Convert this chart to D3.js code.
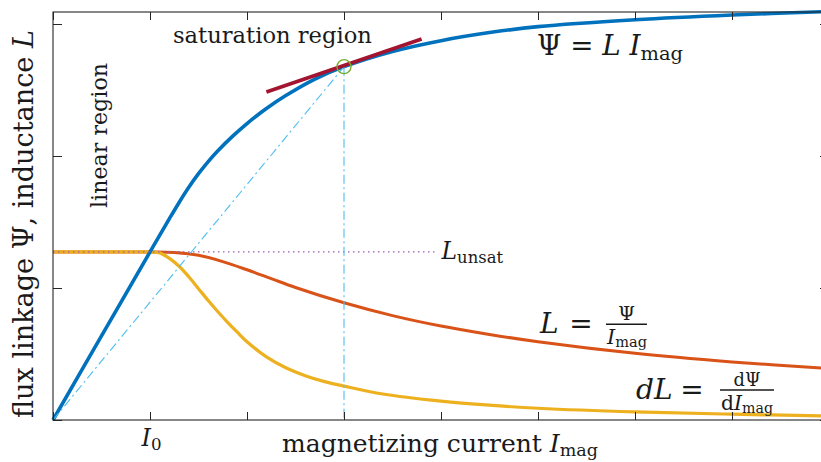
<!DOCTYPE html>
<html><head><meta charset="utf-8">
<script src="https://cdn.jsdelivr.net/npm/d3@7/dist/d3.min.js"></script>
<style>
body{margin:0;background:#fff}
svg{display:block}
text{font-family:'DejaVu Serif','Liberation Serif',serif;fill:#1a1a1a}
</style>
</head><body>
<svg id="chart" width="821" height="462"></svg>
<script>
// ---- data ----
const xTicks = [0,1,2,3,4,5,6,7,8];
const yTicks = [0,1,2,3];
const currentPsi = [0, 0.5, 1, 1.2, 1.3, 1.4, 1.5, 1.6, 1.7, 1.85, 2.0, 2.2, 2.4, 2.7, 3, 3.5, 4, 4.5, 5, 6, 7, 8];
const psi        = [0, 0.637, 1.273, 1.525, 1.648, 1.763, 1.866, 1.958, 2.04, 2.149, 2.246, 2.36, 2.458, 2.583, 2.677, 2.792, 2.874, 2.935, 2.98, 3.032, 3.068, 3.095];
const currentL   = [0, 0.5, 1, 1.25, 1.5, 1.75, 2, 2.25, 2.5, 3, 3.5, 4, 4.5, 5, 6, 7, 8];
const inductance = [1.273, 1.273, 1.273, 1.269, 1.248, 1.2, 1.138, 1.071, 1.004, 0.888, 0.791, 0.712, 0.648, 0.593, 0.505, 0.44, 0.389];
const currentD   = [0, 0.5, 1, 1.1, 1.2, 1.3, 1.4, 1.5, 1.6, 1.7, 1.8, 1.9, 2.0, 2.2, 2.4, 2.6, 2.8, 3.0, 3.4, 4.0, 4.5, 5.0, 6.0, 7.0, 8.0];
const diffInductance = [1.273, 1.273, 1.273, 1.266, 1.225, 1.165, 1.085, 0.995, 0.905, 0.82, 0.74, 0.665, 0.593, 0.478, 0.396, 0.336, 0.291, 0.257, 0.197, 0.143, 0.112, 0.089, 0.061, 0.044, 0.03];
const Lunsat = 1.273;
const LunsatEnd = 3.96;
const opPoint = [3, 2.677];
const tangentX = [2.2, 3.8];
const tangentY = [2.485, 2.886];
const xDomain = [0, 8];
const yDomain = [0, 3.091];

// ---- layout ----
const svg = d3.select('#chart');
const x = d3.scaleLinear().domain(xDomain).range([53, 829]);
const y = d3.scaleLinear().domain(yDomain).range([420, 12]);
const axCol = '#262626';

const line = d3.line().x(d => x(d[0])).y(d => y(d[1])).curve(d3.curveCatmullRom.alpha(0.5));

// curves
svg.append('path').datum(currentL.map((c,i)=>[c, inductance[i]]))
  .attr('d', line).attr('fill','none').attr('stroke','#D95319').attr('stroke-width',3);
svg.append('path').datum(currentD.map((c,i)=>[c, diffInductance[i]]))
  .attr('d', line).attr('fill','none').attr('stroke','#EDB120').attr('stroke-width',3.2);
svg.append('path').datum(currentPsi.map((c,i)=>[c, psi[i]]))
  .attr('d', line).attr('fill','none').attr('stroke','#0072BD').attr('stroke-width',3.6);

// L_unsat dotted
svg.append('line').attr('x1',x(0)).attr('x2',x(LunsatEnd)).attr('y1',y(Lunsat)).attr('y2',y(Lunsat))
  .attr('stroke','#9a5cb0').attr('stroke-width',1.2).attr('stroke-dasharray','1.5,3.5');

// secant and vertical dash-dot
svg.append('line').attr('x1',x(0)).attr('y1',y(0)).attr('x2',x(opPoint[0])).attr('y2',y(opPoint[1]))
  .attr('stroke','#4DBEEE').attr('stroke-width',1.1).attr('stroke-dasharray','9,3.5,2,3.5');
svg.append('line').attr('x1',x(opPoint[0])).attr('y1',y(opPoint[1])).attr('x2',x(opPoint[0])).attr('y2',y(0))
  .attr('stroke','#4DBEEE').attr('stroke-width',1.1).attr('stroke-dasharray','9,3.5,2,3.5');

// tangent
svg.append('line').attr('x1',x(tangentX[0])).attr('y1',y(tangentY[0])).attr('x2',x(tangentX[1])).attr('y2',y(tangentY[1]))
  .attr('stroke','#A2142F').attr('stroke-width',3.8);

// operating point circle
svg.append('circle').attr('cx',x(opPoint[0])).attr('cy',y(opPoint[1])).attr('r',7)
  .attr('fill','none').attr('stroke','#77AC30').attr('stroke-width',1.4);

// axes (ticks inward)
function styleAxis(g){ g.select('.domain').remove(); g.selectAll('line').attr('stroke',axCol); g.selectAll('text').remove(); }
svg.append('g').attr('transform','translate(0,420)').call(d3.axisBottom(x).tickValues(xTicks).tickSize(-8)).call(styleAxis);
svg.append('g').attr('transform','translate(0,12)').call(d3.axisTop(x).tickValues(xTicks).tickSize(-8)).call(styleAxis);
svg.append('g').attr('transform','translate(53,0)').call(d3.axisLeft(y).tickValues(yTicks).tickSize(-9)).call(styleAxis);
svg.append('g').attr('transform','translate(829,0)').call(d3.axisRight(y).tickValues(yTicks).tickSize(-9)).call(styleAxis);
svg.append('rect').attr('x',53).attr('y',12).attr('width',829-53).attr('height',420-12)
  .attr('fill','none').attr('stroke',axCol).attr('stroke-width',1.1);

// ---- text helpers ----
function fit(t, target){
  const w = t.node().getComputedTextLength();
  const fs = parseFloat(t.attr('font-size'));
  t.attr('font-size', (fs*target/w).toFixed(2));
  return t;
}
function sub(t, s){ t.append('tspan').attr('font-size','0.7em').attr('dy','0.24em').text(s); return t; }
function ital(t, s){ t.append('tspan').attr('font-style','italic').text(s); return t; }
function plain(t, s){ t.append('tspan').text(s); return t; }

// x tick label I0
{ const t = svg.append('text').attr('x',141.5).attr('y',446).attr('font-size',20);
  ital(t,'I'); sub(t,'0'); fit(t,20); }

// axis labels
{ const t = svg.append('text').attr('x',282).attr('y',452).attr('font-size',22);
  plain(t,'magnetizing current '); ital(t,'I'); sub(t,'mag'); fit(t,316); }
{ const t = svg.append('text').attr('transform','translate(33,224) rotate(-90)').attr('text-anchor','middle').attr('font-size',22);
  plain(t,'flux linkage Ψ, inductance '); ital(t,'L'); fit(t,388); }

// region labels
{ const t = svg.append('text').attr('x',173).attr('y',43).attr('font-size',20).text('saturation region'); fit(t,199); }
{ const t = svg.append('text').attr('transform','translate(107,135.5) rotate(-90)').attr('text-anchor','middle').attr('font-size',20).text('linear region'); fit(t,145); }

// Ψ = L I_mag
{ const t = svg.append('text').attr('x',537).attr('y',55).attr('font-size',24);
  plain(t,'Ψ = '); ital(t,'L I'); sub(t,'mag'); fit(t,146); }
// L_unsat
{ const t = svg.append('text').attr('x',441.5).attr('y',259).attr('font-size',24);
  ital(t,'L'); sub(t,'unsat'); fit(t,61.5); }

// L = Ψ / I_mag
{ svg.append('text').attr('x',540).attr('y',333).attr('font-size',28).attr('font-style','italic').text('L');
  svg.append('text').attr('x',581).attr('y',333).attr('font-size',28).attr('text-anchor','middle').text('=');
  svg.append('line').attr('x1',606).attr('x2',647).attr('y1',324.3).attr('y2',324.3).attr('stroke','#1a1a1a').attr('stroke-width',1.6);
  svg.append('text').attr('x',626.5).attr('y',320).attr('font-size',19).attr('text-anchor','middle').text('Ψ');
  const d = svg.append('text').attr('x',627).attr('y',344).attr('font-size',19).attr('text-anchor','middle');
  ital(d,'I'); sub(d,'mag'); fit(d,40); }

// dL = dΨ / dI_mag
{ svg.append('text').attr('x',636).attr('y',399).attr('font-size',28).attr('font-style','italic').text('dL');
  svg.append('text').attr('x',692).attr('y',399).attr('font-size',28).attr('text-anchor','middle').text('=');
  svg.append('line').attr('x1',720).attr('x2',774).attr('y1',390).attr('y2',390).attr('stroke','#1a1a1a').attr('stroke-width',1.6);
  const n = svg.append('text').attr('x',747).attr('y',386).attr('font-size',19).attr('text-anchor','middle').text('dΨ');
  fit(n,27);
  const d = svg.append('text').attr('x',747).attr('y',410).attr('font-size',19).attr('text-anchor','middle');
  plain(d,'d'); ital(d,'I'); sub(d,'mag'); fit(d,52); }
</script>
</body></html>
